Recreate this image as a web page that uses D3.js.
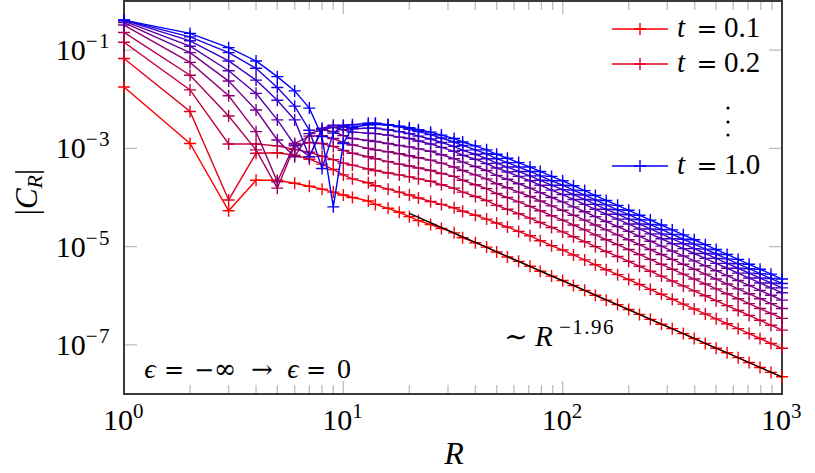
<!DOCTYPE html>
<html><head><meta charset="utf-8">
<script src="https://cdn.jsdelivr.net/npm/d3@7"></script>
<style>body{margin:0;background:#fff} svg{display:block}</style>
</head><body><svg id="c" width="815" height="473"></svg>
<script>
// ---------------- data ----------------
const R = [1,2,3,4,5,6,7,8,9,10,11,13,14,16,18,20,22,25,28,32,35,40,45,50,56,63,71,79,89,100,
  112,126,141,158,178,200,224,251,282,316,355,398,447,501,562,631,708,794,891,1000];
const tLabels = ["0.1","0.2","0.3","0.4","0.5","0.6","0.7","0.8","0.9","1.0"];
// log10 |C_R|
const logC_t01 = [-1.75,-2.90,-4.27,-3.65,-3.65,-3.71,-3.77,-3.83,-3.89,-3.95,
  -4.00,-4.07,-4.14,-4.22,-4.30,-4.39,-4.47,-4.55,-4.63,-4.72,-4.82,-4.92,-5.01,-5.11,-5.21,-5.30,-5.40,-5.50,-5.60,-5.69,
  -5.79,-5.89,-5.99,-6.09,-6.18,-6.28,-6.38,-6.48,-6.58,-6.67,-6.77,-6.87,-6.97,-7.07,-7.16,-7.26,-7.36,-7.46,-7.56,-7.65];
const logC_t02 = [-1.17,-2.25,-4.05,-3.10,-3.09,-3.14,-3.22,-3.32,-3.43,-3.54,
  -3.62,-3.70,-3.76,-3.83,-3.89,-3.95,-4.01,-4.08,-4.14,-4.21,-4.28,-4.36,-4.44,-4.52,-4.60,-4.69,-4.78,-4.88,-4.98,-5.07,
  -5.17,-5.27,-5.37,-5.47,-5.57,-5.67,-5.77,-5.87,-5.97,-6.07,-6.17,-6.27,-6.37,-6.47,-6.57,-6.67,-6.77,-6.87,-6.97,-7.07];
const logC_t03 = [-0.84,-1.81,-2.91,-2.91,-2.95,-3.02,-3.08,-3.16,-3.23,-3.30,
  -3.34,-3.42,-3.45,-3.50,-3.54,-3.58,-3.62,-3.67,-3.74,-3.81,-3.89,-3.98,-4.06,-4.16,-4.24,-4.33,-4.42,-4.51,-4.61,-4.70,
  -4.80,-4.90,-5.00,-5.10,-5.20,-5.30,-5.40,-5.50,-5.60,-5.70,-5.80,-5.90,-6.00,-6.10,-6.20,-6.30,-6.40,-6.50,-6.60,-6.70];
const logC_t04 = [-0.64,-1.51,-2.34,-3.03,-3.81,-2.95,-2.88,-2.90,-2.96,-3.04,
  -3.10,-3.17,-3.21,-3.27,-3.32,-3.36,-3.40,-3.45,-3.51,-3.57,-3.65,-3.74,-3.82,-3.92,-4.00,-4.09,-4.18,-4.27,-4.37,-4.46,
  -4.56,-4.66,-4.76,-4.86,-4.96,-5.06,-5.16,-5.26,-5.36,-5.46,-5.56,-5.66,-5.76,-5.86,-5.96,-6.06,-6.16,-6.26,-6.36,-6.46];
const logC_t05 = [-0.49,-1.25,-1.93,-2.66,-3.68,-2.90,-2.75,-2.74,-2.80,-2.88,
  -2.93,-3.00,-3.03,-3.07,-3.11,-3.15,-3.19,-3.24,-3.30,-3.38,-3.45,-3.54,-3.62,-3.72,-3.80,-3.89,-3.98,-4.07,-4.17,-4.26,
  -4.36,-4.46,-4.56,-4.66,-4.76,-4.86,-4.96,-5.06,-5.16,-5.26,-5.36,-5.46,-5.56,-5.66,-5.76,-5.86,-5.96,-6.06,-6.16,-6.26];
const logC_t06 = [-0.44,-1.05,-1.63,-2.22,-2.83,-3.17,-2.70,-2.62,-2.66,-2.74,
  -2.80,-2.84,-2.86,-2.90,-2.94,-2.97,-3.01,-3.06,-3.13,-3.21,-3.28,-3.37,-3.45,-3.55,-3.63,-3.72,-3.81,-3.90,-4.00,-4.09,
  -4.19,-4.29,-4.39,-4.49,-4.59,-4.69,-4.79,-4.89,-4.99,-5.09,-5.19,-5.29,-5.39,-5.49,-5.59,-5.69,-5.79,-5.89,-5.99,-6.09];
const logC_t07 = [-0.41,-0.92,-1.42,-1.88,-2.42,-2.93,-3.17,-2.62,-2.57,-2.62,
  -2.67,-2.69,-2.70,-2.73,-2.77,-2.80,-2.85,-2.91,-2.98,-3.06,-3.14,-3.22,-3.31,-3.40,-3.48,-3.57,-3.66,-3.75,-3.85,-3.94,
  -4.04,-4.14,-4.24,-4.34,-4.44,-4.54,-4.64,-4.74,-4.84,-4.94,-5.04,-5.14,-5.24,-5.34,-5.44,-5.54,-5.64,-5.74,-5.84,-5.94];
const logC_t08 = [-0.39,-0.81,-1.22,-1.61,-2.02,-2.42,-3.17,-2.59,-2.53,-2.56,
  -2.60,-2.59,-2.59,-2.62,-2.66,-2.70,-2.75,-2.81,-2.88,-2.96,-3.04,-3.12,-3.21,-3.30,-3.38,-3.47,-3.56,-3.65,-3.75,-3.84,
  -3.94,-4.04,-4.14,-4.24,-4.34,-4.44,-4.54,-4.64,-4.74,-4.84,-4.94,-5.04,-5.14,-5.24,-5.34,-5.44,-5.54,-5.64,-5.74,-5.84];
const logC_t09 = [-0.39,-0.73,-1.05,-1.37,-1.76,-2.14,-2.63,-3.41,-2.69,-2.53,
  -2.52,-2.49,-2.49,-2.52,-2.56,-2.61,-2.66,-2.72,-2.79,-2.87,-2.94,-3.03,-3.11,-3.21,-3.29,-3.38,-3.47,-3.56,-3.66,-3.75,
  -3.85,-3.95,-4.05,-4.15,-4.25,-4.35,-4.45,-4.55,-4.65,-4.75,-4.85,-4.95,-5.05,-5.15,-5.25,-5.35,-5.45,-5.55,-5.65,-5.75];
const logC_t10 = [-0.39,-0.66,-0.95,-1.22,-1.54,-1.83,-2.18,-2.76,-4.19,-2.90,
  -2.57,-2.52,-2.51,-2.52,-2.55,-2.58,-2.62,-2.67,-2.73,-2.80,-2.87,-2.95,-3.03,-3.12,-3.20,-3.29,-3.38,-3.47,-3.57,-3.66,
  -3.76,-3.86,-3.96,-4.06,-4.16,-4.26,-4.36,-4.46,-4.56,-4.66,-4.76,-4.86,-4.96,-5.06,-5.16,-5.26,-5.36,-5.46,-5.56,-5.66];
const allSeries = [logC_t01,logC_t02,logC_t03,logC_t04,logC_t05,logC_t06,logC_t07,logC_t08,logC_t09,logC_t10];

const xTickValues = [1,10,100,1000];
const xTickExps = ["0","1","2","3"];
const yTickValues = [1e-1,1e-3,1e-5,1e-7];
const yTickExps = ["\u22121","\u22123","\u22125","\u22127"];
// fitted power law  C ~ A R^-1.96  drawn from R=20 to R=1000
const fitRange = [20, 1000];
const fitExponent = -1.96;
const fitLog10A = -1.774;
const legendShown = [0, 1, 9];

// ---------------- layout ----------------
const L = 124, Rt = 782, T = 1, B = 394;
const FONT = "'Liberation Serif', 'DejaVu Serif', serif";
const SYM = "'DejaVu Serif', serif";
const svg = d3.select("#c");
const x = d3.scaleLog().domain([1,1000]).range([L,Rt]);
const y = d3.scaleLog().domain([1e-8,1]).range([B,T]);
const color = i => d3.interpolateRgb("#ff0000","#0000ff")(i/9);

// ticks
const tickColor = "#bdbdbd";
const minor = [];
[1,10,100].forEach(d => { for (let k=2;k<10;k++) minor.push(d*k); });
const tg = svg.append("g").attr("stroke", tickColor).attr("stroke-width", 1.3);
minor.forEach(v => {
  tg.append("line").attr("x1",x(v)).attr("x2",x(v)).attr("y1",B).attr("y2",B-9);
  tg.append("line").attr("x1",x(v)).attr("x2",x(v)).attr("y1",T).attr("y2",T+9);
});
xTickValues.forEach(v => {
  tg.append("line").attr("x1",x(v)).attr("x2",x(v)).attr("y1",B).attr("y2",B-13);
  tg.append("line").attr("x1",x(v)).attr("x2",x(v)).attr("y1",T).attr("y2",T+13);
});
yTickValues.forEach(v => {
  tg.append("line").attr("x1",L).attr("x2",L+13).attr("y1",y(v)).attr("y2",y(v));
  tg.append("line").attr("x1",Rt).attr("x2",Rt-13).attr("y1",y(v)).attr("y2",y(v));
});

// frame
svg.append("rect").attr("x",L).attr("y",T).attr("width",Rt-L).attr("height",B-T)
  .attr("fill","none").attr("stroke","#3a3a3a").attr("stroke-width",2);

// helper for text pieces
function txt(xp, yp, s, size, italic, anchor, fam) {
  return svg.append("text").attr("x",xp).attr("y",yp).attr("font-family",fam||FONT)
    .attr("font-size",size).attr("font-style",italic?"italic":"normal")
    .attr("text-anchor",anchor||"start").attr("fill","#000").text(s);
}

// tick labels
function pow10(xp, yp, exp, anchor) {
  const t = svg.append("text").attr("x",xp).attr("y",yp).attr("text-anchor",anchor)
    .attr("font-family",FONT).attr("font-size",30).attr("fill","#000");
  t.append("tspan").text("10");
  t.append("tspan").attr("dy",-12).attr("font-size",21).attr("letter-spacing",1.5).text(exp);
}
xTickValues.forEach((v,i) => pow10(x(v), 430, xTickExps[i], "middle"));
yTickValues.forEach((v,i) => pow10(111, y(v)+10, yTickExps[i], "end"));

// axis labels
txt(454, 464, "R", 32, true, "middle");
const yl = svg.append("text").attr("transform","translate(37,192) rotate(-90)").attr("text-anchor","middle")
  .attr("font-family",FONT).attr("font-size",31);
yl.append("tspan").text("|");
yl.append("tspan").attr("font-style","italic").text("C");
yl.append("tspan").attr("font-style","italic").attr("font-size",22).attr("dy",5).text("R");
yl.append("tspan").attr("dy",-5).text("|");

// data
const line = d3.line().x(d=>x(d[0])).y(d=>y(d[1]));
const plus = "M-6,0H6M0,-6V6";
allSeries.forEach((s,i) => {
  const pts = R.map((r,k) => [r, Math.pow(10, s[k])]);
  const g = svg.append("g");
  g.append("path").attr("d", line(pts)).attr("fill","none").attr("stroke",color(i)).attr("stroke-width",1.4);
  g.selectAll("path.m").data(pts).join("path").attr("class","m")
    .attr("d",plus).attr("transform",d=>`translate(${x(d[0])},${y(d[1])})`)
    .attr("stroke",color(i)).attr("stroke-width",1.4).attr("fill","none");
});

// fit line (on top)
svg.append("line")
  .attr("x1",x(fitRange[0])).attr("y1",y(Math.pow(10,fitLog10A)*Math.pow(fitRange[0],fitExponent)))
  .attr("x2",x(fitRange[1])).attr("y2",y(Math.pow(10,fitLog10A)*Math.pow(fitRange[1],fitExponent)))
  .attr("stroke","#000").attr("stroke-width",1.3);

// legend
const legY = [29, 64, 166];
legendShown.forEach((si,k) => {
  const c = color(si);
  svg.append("line").attr("x1",612).attr("x2",668).attr("y1",legY[k]).attr("y2",legY[k])
    .attr("stroke",c).attr("stroke-width",1.4);
  svg.append("path").attr("d",plus).attr("transform",`translate(640,${legY[k]})`)
    .attr("stroke",c).attr("stroke-width",1.4);
  txt(677, legY[k]+8, "t", 29, true);
  txt(707, legY[k]+8, "=", 25, false, "middle", SYM);
  txt(724, legY[k]+8, tLabels[si], 29, false);
});
[108,122,135].forEach(yy => svg.append("circle").attr("cx",728).attr("cy",yy).attr("r",1.6).attr("fill","#000"));

// annotations
txt(516, 346, "\u223C", 28, false, "middle", SYM);
txt(535, 346, "R", 29, true);
txt(559, 334, "\u22121.96", 21, false).attr("letter-spacing", 1.5);
const ay = 378;
txt(150, ay, "\u03F5", 28, true, "middle");
txt(174, ay, "=", 24, false, "middle", SYM);
txt(204, ay, "\u2212", 24, false, "middle", SYM);
txt(225, ay, "\u221E", 27, false, "middle", SYM);
txt(262, ay, "\u2192", 26, false, "middle", SYM);
txt(293, ay, "\u03F5", 28, true, "middle");
txt(316, ay, "=", 24, false, "middle", SYM);
txt(344, ay, "0", 28, false, "middle");
</script></body></html>
